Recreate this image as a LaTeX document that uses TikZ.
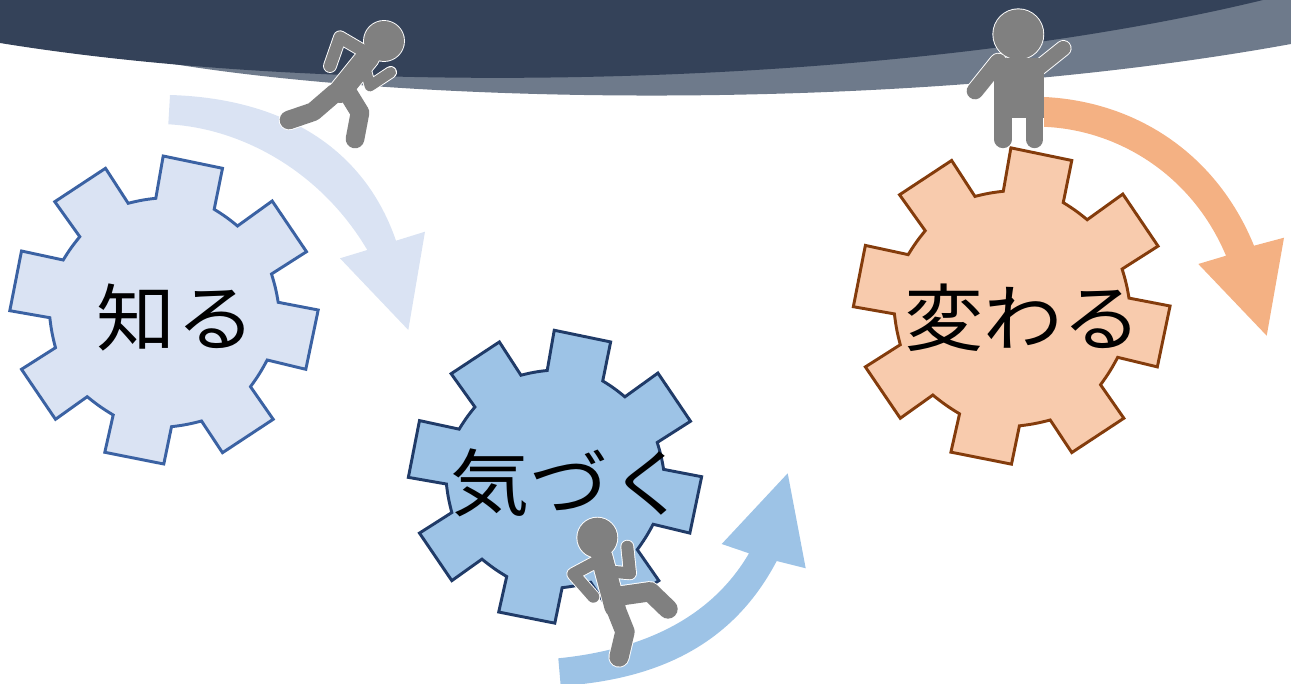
\documentclass[tikz,border=0pt]{standalone}
\usepackage{fontspec}
\usepackage{xcolor}
\usepackage{tikz}
\newfontfamily\cjk[FakeStretch=1.08]{Noto Sans CJK JP}
\definecolor{bandd}{HTML}{344259}
\definecolor{bandl}{HTML}{6E7A8B}
\definecolor{figc}{HTML}{808080}
\definecolor{lightb}{HTML}{DAE3F3}
\definecolor{lightbo}{HTML}{3B62A3}
\definecolor{midb}{HTML}{9DC3E6}
\definecolor{midbo}{HTML}{203B68}
\definecolor{peach}{HTML}{F8CBAD}
\definecolor{peacho}{HTML}{843C0C}
\definecolor{orangea}{HTML}{F4B183}
\tikzset{
  gear/.style={line width=2.2pt, line join=miter},
  lbl/.style={font=\cjk\fontsize{55}{55}\selectfont, text=black, inner sep=0pt},
  limb/.style={line cap=round, line join=round},
}
% gear outline, pixels around its centre
\newcommand{\gearoutline}{(-0.8,-154) -- (58.5,-141.7) -- (50.2,-100.7) to[bend left=4] (73.5,-84) -- (108.2,-109)
  -- (142.5,-58.3) -- (107.5,-36) to[bend left=4] (114.2,-7.7) -- (154.2,0) -- (141.8,59.3) -- (103.2,50)
  to[bend left=4] (86.5,76.7) -- (109.2,109.3) -- (58.5,142.7) -- (37.5,111) to[bend left=4] (7.5,116.7) -- (-0.2,154)
  -- (-59.2,142.3) -- (-50.8,105) to[bend left=4] (-76.8,86.7) -- (-108.5,109.3) -- (-142.5,59.3) -- (-108.5,37.7)
  to[bend left=4] (-114.2,7.7) -- (-154.2,0.7) -- (-142.5,-59) -- (-100.8,-50) to[bend left=4] (-84.2,-73.3) -- (-109.2,-108.3)
  -- (-58.5,-141.7) -- (-35.8,-106.7) to[bend left=4] (-8.2,-111.7) -- cycle}
% the three figures, #1 colour, #2 extra width
\newcommand{\figrunner}[2]{
  \draw[limb, draw=#1, line width=9pt+#2] (361.7,50) -- (340,37.3) -- (330,66);
  \draw[limb, draw=#1, line width=8pt+#2] (366,71.7) -- (370,86) -- (390.7,72.3);
  \draw[limb, draw=#1, line width=17pt+#2] (368.3,56.7) -- (340,91.7);
  \draw[limb, draw=#1, line width=14pt+#2] (335,93) -- (313.3,111.7) -- (289,120);
  \draw[limb, draw=#1, line width=14pt+#2] (345,88.3) -- (360,112.7) -- (355,139);
  \fill[#1] (384,41) circle[radius=20pt*0.75+#2/2];
}
\newcommand{\figkicker}[2]{
  \draw[limb, draw=#1, line width=9pt+#2] (593.3,563.3) -- (573.3,574) -- (593.3,596.7);
  \draw[limb, draw=#1, line width=9pt+#2] (611.7,571.7) -- (630,573.3) -- (627.3,546.7);
  \draw[limb, draw=#1, line width=16pt+#2] (601.7,556.7) -- (615,606.7);
  \draw[limb, draw=#1, line width=14.5pt+#2] (615,596.7) -- (650,591.7) -- (668,609);
  \draw[limb, draw=#1, line width=14.5pt+#2] (615,606.7) -- (625,631.7) -- (619,657);
  \fill[#1] (597.3,537.7) circle[radius=20pt*0.75+#2/2];
}
\newcommand{\figwaver}[2]{
  \draw[limb, draw=#1, line width=12.5pt+#2] (998.3,62) -- (975,91);
  \draw[limb, draw=#1, line width=11pt+#2] (1038.3,68.3) -- (1063.3,48.3);
  \draw[limb, draw=#1, line width=13pt+#2] (1003,70) -- (1003,139.5);
  \draw[limb, draw=#1, line width=13pt+#2] (1034.6,70) -- (1034.6,139.5);
  \fill[#1, draw=#1, line width=#2] (994.3,59) rectangle (1043.3,118);
  \fill[#1] (1018.3,34.3) circle[radius=25pt*0.75+#2/2];
}

\begin{document}
\begin{tikzpicture}[x=0.75pt, y=-0.75pt]
  \useasboundingbox (0,0) rectangle (1291,684);
  \begin{scope}
    \clip (0,0) rectangle (1291,684);
    % top bands
    \fill[bandl] (150,60) .. controls (400,105) and (900,115) .. (1291,44) -- (1291,0) -- (1200,0) -- cycle;
    \fill[bandd] (0,0) -- (0,43) .. controls (350,100) and (900,88) .. (1263,0) -- cycle;
    % arrows
    \fill[lightb] (170,95) .. controls (275,98) and (362,142) .. (396,240.7) -- (425,231.7) -- (408.3,330)
      -- (340,258.3) -- (367.3,250) .. controls (320,170) and (240,128) .. (168.3,124.3) -- cycle;
    \fill[midb] (558.3,658.3) .. controls (640,650) and (710,620) .. (749,553.3) -- (721.7,544) -- (787.7,473.3)
      -- (805.7,568.3) -- (776.7,561) .. controls (730,650) and (650,680) .. (560.7,686) -- cycle;
    \fill[orangea] (1035,96.7) .. controls (1130,98) and (1215,150) .. (1254,245.7) -- (1284,237.7) -- (1266.7,335.7)
      -- (1198.3,264) -- (1226,255.7) .. controls (1190,170) and (1110,126) .. (1035,126.7) -- cycle;
    % gears
    \filldraw[gear, fill=lightb, draw=lightbo, shift={(164,310)}] \gearoutline;
    \filldraw[gear, fill=midb, draw=midbo, shift={(555,476.7)}, scale=0.951] \gearoutline;
    \filldraw[gear, fill=peach, draw=peacho, shift={(1011.7,306)}, scale=1.027] \gearoutline;
    \node[lbl] (shiru) at (176,317) {知る};
    \node[lbl] (kizuku) at (569.5,483) {気づく};
    \node[lbl] (kawaru) at (1023,318) {変わる};
    % figures
    \figrunner{white}{1.4pt}
    \figrunner{figc}{0pt}
    \figkicker{white}{1.4pt}
    \figkicker{figc}{0pt}
    \figwaver{white}{1.4pt}
    \figwaver{figc}{0pt}
  \end{scope}
\end{tikzpicture}
\end{document}
